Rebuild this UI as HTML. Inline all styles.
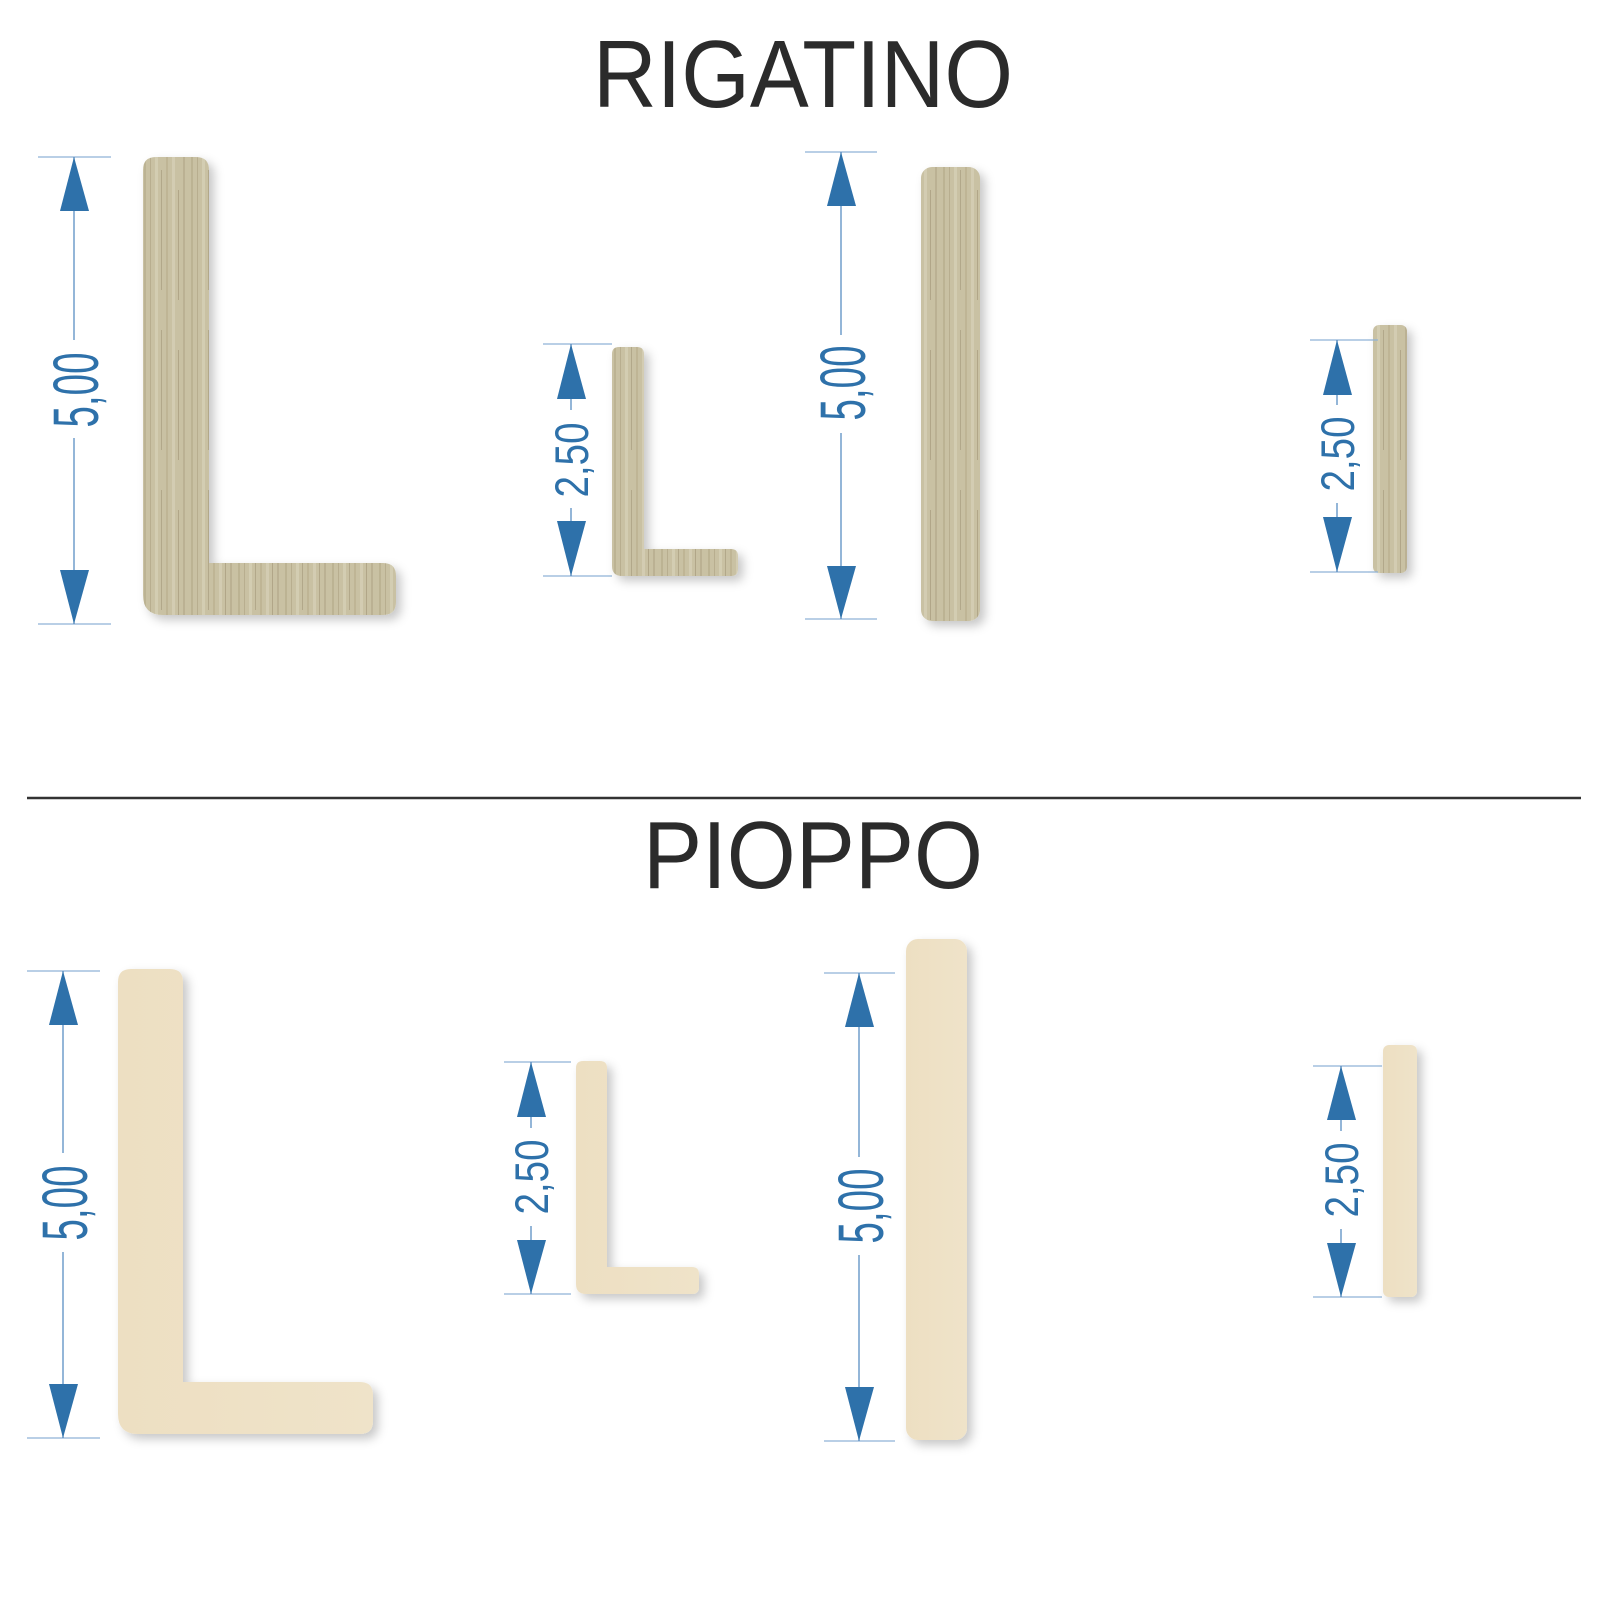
<!DOCTYPE html>
<html><head><meta charset="utf-8"><style>
html,body{margin:0;padding:0;background:#fff;}
svg{display:block;}
</style></head><body>
<svg width="1600" height="1600" viewBox="0 0 1600 1600" xmlns="http://www.w3.org/2000/svg">
<defs>
<pattern id="rig" width="47" height="160" patternUnits="userSpaceOnUse">
<rect width="47" height="160" fill="#c9c1a3"/>
<rect x="3" width="2" height="160" fill="#b0a583" opacity=".5"/>
<rect x="9" width="1" height="160" fill="#9e9170" opacity=".4"/>
<rect x="14" width="3" height="160" fill="#d6cfb5" opacity=".8"/>
<rect x="20" y="10" width="1" height="120" fill="#8f8263" opacity=".4"/>
<rect x="25" width="2" height="160" fill="#b5aa88" opacity=".5"/>
<rect x="31" width="3" height="160" fill="#d8d1b8" opacity=".7"/>
<rect x="37" y="30" width="1" height="110" fill="#8c7e5f" opacity=".4"/>
<rect x="42" width="2" height="160" fill="#aea283" opacity=".5"/>
</pattern>
<linearGradient id="pio" x1="0" y1="0" x2="1" y2="0">
<stop offset="0" stop-color="#eddfc2"/><stop offset="1" stop-color="#efe3c9"/>
</linearGradient>
<filter id="sh" x="-30%" y="-10%" width="160%" height="130%">
<feDropShadow dx="5" dy="5" stdDeviation="5" flood-color="#000" flood-opacity="0.22"/>
</filter>
</defs>

<text x="803" y="107" font-family="Liberation Sans, sans-serif" font-size="96" fill="#2b2b2b" text-anchor="middle" textLength="420" lengthAdjust="spacingAndGlyphs">RIGATINO</text>
<line x1="27" y1="798" x2="1581" y2="798" stroke="#333" stroke-width="2.5"/>
<text x="813" y="888" font-family="Liberation Sans, sans-serif" font-size="96" fill="#2b2b2b" text-anchor="middle" textLength="340" lengthAdjust="spacingAndGlyphs">PIOPPO</text>

<g filter="url(#sh)" fill="url(#rig)">
<path d="M143,170 Q143,157 156,157 L196,157 Q209,157 209,170 L209,563 L383,563 Q396,563 396,576 L396,602 Q396,615 383,615 L163,615 Q143,615 143,595 Z"/>
<path d="M612,354 Q612,347 619,347 L637,347 Q644,347 644,354 L644,549 L731,549 Q738,549 738,556 L738,569 Q738,576 731,576 L622,576 Q612,576 612,566 Z"/>
<rect x="921" y="167" width="59" height="454" rx="11"/>
<rect x="1373" y="325" width="34" height="248" rx="6"/>
</g>
<g filter="url(#sh)" fill="url(#pio)">
<path d="M118,982 Q118,969 131,969 L170,969 Q183,969 183,982 L183,1382 L360,1382 Q373,1382 373,1395 L373,1421 Q373,1434 360,1434 L138,1434 Q118,1434 118,1414 Z"/>
<path d="M576,1068 Q576,1061 583,1061 L600,1061 Q607,1061 607,1068 L607,1267 L692,1267 Q699,1267 699,1274 L699,1287 Q699,1294 692,1294 L586,1294 Q576,1294 576,1284 Z"/>
<rect x="906" y="939" width="61" height="501" rx="12"/>
<rect x="1383" y="1045" width="34" height="252" rx="6"/>
</g>

<g font-family="Liberation Sans, sans-serif" fill="#2e71aa">
<g>
<line x1="38" y1="157" x2="111" y2="157" stroke="#8fb2d6" stroke-width="1.3"/>
<line x1="38" y1="624" x2="111" y2="624" stroke="#8fb2d6" stroke-width="1.3"/>
<line x1="74" y1="157" x2="74" y2="340" stroke="#5b8ec4" stroke-width="1.3"/>
<line x1="74" y1="438" x2="74" y2="624" stroke="#5b8ec4" stroke-width="1.3"/>
<polygon points="74,157 60,211 89,211"/><polygon points="74,624 60,570 89,570"/>
<text transform="translate(98,390) rotate(-90)" font-size="64" text-anchor="middle" textLength="75" lengthAdjust="spacingAndGlyphs">5,00</text>
</g>
<g>
<line x1="543" y1="344" x2="612" y2="344" stroke="#8fb2d6" stroke-width="1.3"/>
<line x1="543" y1="576" x2="612" y2="576" stroke="#8fb2d6" stroke-width="1.3"/>
<line x1="571" y1="344" x2="571" y2="410" stroke="#5b8ec4" stroke-width="1.3"/>
<line x1="571" y1="508" x2="571" y2="576" stroke="#5b8ec4" stroke-width="1.3"/>
<polygon points="571,344 557,399 586,399"/><polygon points="571,576 557,521 586,521"/>
<text transform="translate(588,460) rotate(-90)" font-size="47" text-anchor="middle" textLength="75" lengthAdjust="spacingAndGlyphs">2,50</text>
</g>
<g>
<line x1="805" y1="152" x2="877" y2="152" stroke="#8fb2d6" stroke-width="1.3"/>
<line x1="805" y1="619" x2="877" y2="619" stroke="#8fb2d6" stroke-width="1.3"/>
<line x1="841" y1="152" x2="841" y2="335" stroke="#5b8ec4" stroke-width="1.3"/>
<line x1="841" y1="433" x2="841" y2="619" stroke="#5b8ec4" stroke-width="1.3"/>
<polygon points="841,152 827,206 856,206"/><polygon points="841,619 827,566 856,566"/>
<text transform="translate(865,383) rotate(-90)" font-size="64" text-anchor="middle" textLength="75" lengthAdjust="spacingAndGlyphs">5,00</text>
</g>
<g>
<line x1="1310" y1="340" x2="1378" y2="340" stroke="#8fb2d6" stroke-width="1.3"/>
<line x1="1310" y1="572" x2="1378" y2="572" stroke="#8fb2d6" stroke-width="1.3"/>
<line x1="1337" y1="340" x2="1337" y2="405" stroke="#5b8ec4" stroke-width="1.3"/>
<line x1="1337" y1="503" x2="1337" y2="572" stroke="#5b8ec4" stroke-width="1.3"/>
<polygon points="1337,340 1323,395 1352,395"/><polygon points="1337,572 1323,517 1352,517"/>
<text transform="translate(1354,454) rotate(-90)" font-size="47" text-anchor="middle" textLength="75" lengthAdjust="spacingAndGlyphs">2,50</text>
</g>
<g>
<line x1="27" y1="971" x2="100" y2="971" stroke="#8fb2d6" stroke-width="1.3"/>
<line x1="27" y1="1438" x2="100" y2="1438" stroke="#8fb2d6" stroke-width="1.3"/>
<line x1="63" y1="971" x2="63" y2="1153" stroke="#5b8ec4" stroke-width="1.3"/>
<line x1="63" y1="1252" x2="63" y2="1438" stroke="#5b8ec4" stroke-width="1.3"/>
<polygon points="63,971 49,1025 78,1025"/><polygon points="63,1438 49,1384 78,1384"/>
<text transform="translate(87,1203) rotate(-90)" font-size="64" text-anchor="middle" textLength="75" lengthAdjust="spacingAndGlyphs">5,00</text>
</g>
<g>
<line x1="504" y1="1062" x2="571" y2="1062" stroke="#8fb2d6" stroke-width="1.3"/>
<line x1="504" y1="1294" x2="571" y2="1294" stroke="#8fb2d6" stroke-width="1.3"/>
<line x1="531" y1="1062" x2="531" y2="1128" stroke="#5b8ec4" stroke-width="1.3"/>
<line x1="531" y1="1226" x2="531" y2="1294" stroke="#5b8ec4" stroke-width="1.3"/>
<polygon points="531,1062 517,1117 546,1117"/><polygon points="531,1294 517,1240 546,1240"/>
<text transform="translate(548,1177) rotate(-90)" font-size="47" text-anchor="middle" textLength="75" lengthAdjust="spacingAndGlyphs">2,50</text>
</g>
<g>
<line x1="824" y1="973" x2="895" y2="973" stroke="#8fb2d6" stroke-width="1.3"/>
<line x1="824" y1="1441" x2="895" y2="1441" stroke="#8fb2d6" stroke-width="1.3"/>
<line x1="859" y1="973" x2="859" y2="1157" stroke="#5b8ec4" stroke-width="1.3"/>
<line x1="859" y1="1255" x2="859" y2="1441" stroke="#5b8ec4" stroke-width="1.3"/>
<polygon points="859,973 845,1027 874,1027"/><polygon points="859,1441 845,1387 874,1387"/>
<text transform="translate(883,1206) rotate(-90)" font-size="64" text-anchor="middle" textLength="75" lengthAdjust="spacingAndGlyphs">5,00</text>
</g>
<g>
<line x1="1313" y1="1066" x2="1382" y2="1066" stroke="#8fb2d6" stroke-width="1.3"/>
<line x1="1313" y1="1297" x2="1382" y2="1297" stroke="#8fb2d6" stroke-width="1.3"/>
<line x1="1341" y1="1066" x2="1341" y2="1131" stroke="#5b8ec4" stroke-width="1.3"/>
<line x1="1341" y1="1229" x2="1341" y2="1297" stroke="#5b8ec4" stroke-width="1.3"/>
<polygon points="1341,1066 1327,1120 1356,1120"/><polygon points="1341,1297 1327,1243 1356,1243"/>
<text transform="translate(1358,1180) rotate(-90)" font-size="47" text-anchor="middle" textLength="75" lengthAdjust="spacingAndGlyphs">2,50</text>
</g>
</g>
</svg>
</body></html>
